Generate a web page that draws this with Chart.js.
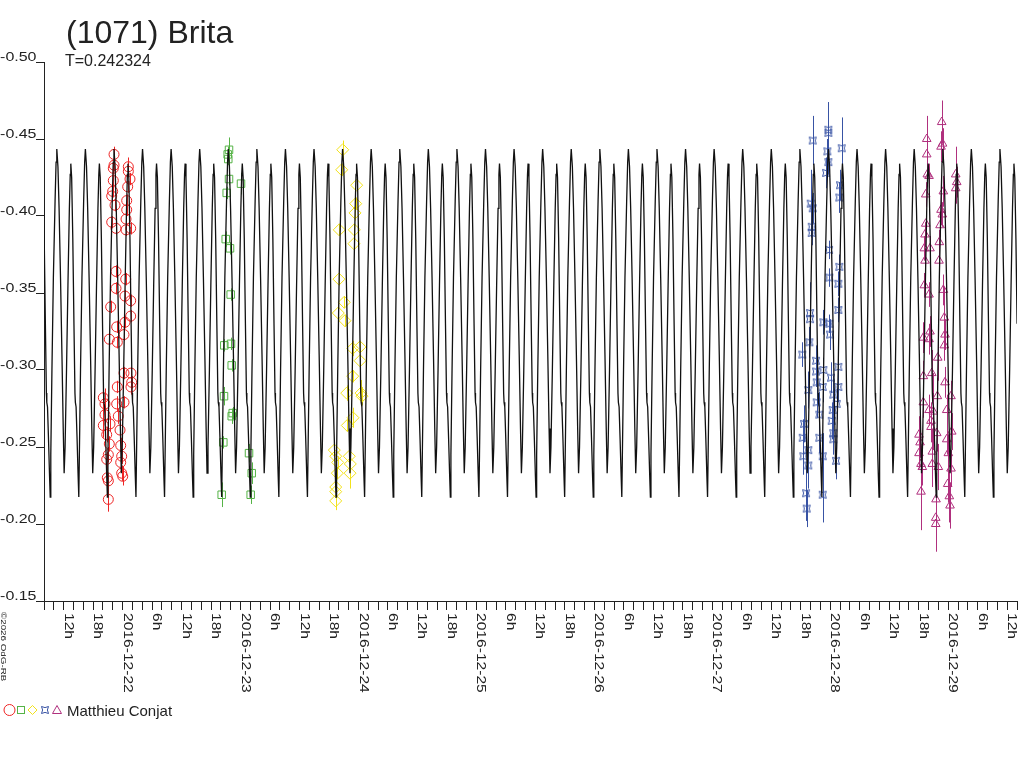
<!DOCTYPE html>
<html>
<head>
<meta charset="utf-8">
<title>(1071) Brita</title>
<script src="https://cdn.jsdelivr.net/npm/chart.js@4.4.1/dist/chart.umd.min.js"></script>
<style>
html, body { margin: 0; padding: 0; background: #fff; }
canvas { display: block; }
</style>
</head>
<body>
<canvas id="lc" width="1024" height="768" style="width:1024px;height:768px"></canvas>
<script>
// time axis: hours since 2016-12-21 00:00 UT
const xMin = 8, xMax = 206;
const yTop = -0.50, yBottom = -0.15;
const titleText = '(1071) Brita';
const periodText = 'T=0.242324';
const observer = 'Matthieu Conjat';
const copyText = '\u00a92026 OdG-RB';

// model light curve, one period (phase 0 = brighter maximum)
const periodHours = 0.242324 * 24;
const modelEpoch = 16.42;
const modelPhase = [0, 0.04, 0.08, 0.13, 0.18, 0.225, 0.257, 0.29, 0.34, 0.39, 0.44, 0.47, 0.49, 0.52, 0.56, 0.6, 0.635, 0.65, 0.675, 0.71, 0.745, 0.77, 0.79, 0.83, 0.88, 0.94, 0.975];
const modelMag = [-0.4435, -0.432, -0.405, -0.36, -0.31, -0.262, -0.233, -0.25, -0.3, -0.355, -0.405, -0.427, -0.434, -0.425, -0.385, -0.33, -0.285, -0.279, -0.276, -0.255, -0.232, -0.2175, -0.245, -0.3, -0.36, -0.41, -0.435];

// session 1 (red circles)
const s1Hours = [22.25, 22.25, 22.10, 25.16, 25.16, 25.50, 22.10, 25.03, 21.98, 21.78, 22.45, 24.83, 24.83, 24.69, 21.78, 22.65, 24.69, 25.64, 22.65, 24.63, 22.65, 24.48, 25.64, 21.57, 25.64, 22.79, 24.48, 24.28, 21.29, 22.92, 24.28, 25.70, 25.85, 25.70, 22.92, 20.07, 20.41, 22.79, 24.28, 20.41, 23.12, 20.07, 21.43, 23.47, 20.76, 21.29, 23.61, 21.09, 23.81, 20.76, 23.61, 20.88, 23.81, 24.02, 21.09, 21.09];
const s1Mag = [-0.440, -0.433, -0.431, -0.432, -0.429, -0.424, -0.423, -0.419, -0.416, -0.413, -0.407, -0.410, -0.404, -0.398, -0.396, -0.392, -0.391, -0.392, -0.364, -0.359, -0.353, -0.348, -0.345, -0.341, -0.335, -0.328, -0.331, -0.323, -0.320, -0.318, -0.298, -0.298, -0.292, -0.289, -0.289, -0.282, -0.278, -0.278, -0.279, -0.271, -0.270, -0.264, -0.265, -0.261, -0.258, -0.252, -0.251, -0.245, -0.244, -0.242, -0.240, -0.230, -0.233, -0.231, -0.228, -0.216];
const s1Err = [0.005, 0.004, 0.004, 0.006, 0.004, 0.004, 0.004, 0.004, 0.004, 0.004, 0.004, 0.004, 0.004, 0.004, 0.004, 0.004, 0.004, 0.004, 0.004, 0.004, 0.004, 0.004, 0.004, 0.004, 0.004, 0.004, 0.004, 0.004, 0.004, 0.004, 0.004, 0.004, 0.004, 0.005, 0.004, 0.012, 0.010, 0.005, 0.004, 0.006, 0.005, 0.008, 0.005, 0.005, 0.005, 0.005, 0.005, 0.005, 0.005, 0.005, 0.005, 0.008, 0.005, 0.006, 0.005, 0.008];

// session 2 (green squares)
const s2Hours = [45.65, 45.38, 45.50, 45.65, 48.09, 45.18, 44.98, 45.85, 45.99, 44.69, 46.05, 46.20, 44.63, 46.40, 46.20, 44.49, 49.72, 50.27, 44.16, 50.06];
const s2Mag = [-0.443, -0.440, -0.437, -0.424, -0.421, -0.415, -0.385, -0.379, -0.349, -0.316, -0.317, -0.303, -0.283, -0.272, -0.270, -0.253, -0.246, -0.233, -0.219, -0.219];
const s2Err = [0.008, 0.005, 0.004, 0.004, 0.007, 0.004, 0.005, 0.004, 0.004, 0.004, 0.004, 0.004, 0.006, 0.004, 0.005, 0.004, 0.006, 0.007, 0.008, 0.006];

// session 3 (yellow diamonds)
const s3Hours = [68.79, 68.58, 71.63, 71.43, 71.29, 68.09, 71.15, 71.08, 68.03, 69.11, 67.89, 69.25, 70.82, 72.31, 72.31, 70.82, 69.60, 72.51, 70.88, 69.72, 67.08, 67.36, 67.77, 70.13, 70.33, 70.27, 67.69, 67.36, 67.36, 67.36, 72.71];
const s3Mag = [-0.443, -0.430, -0.420, -0.408, -0.402, -0.391, -0.391, -0.382, -0.359, -0.344, -0.337, -0.332, -0.314, -0.315, -0.306, -0.296, -0.285, -0.285, -0.269, -0.264, -0.248, -0.244, -0.240, -0.244, -0.239, -0.233, -0.233, -0.224, -0.221, -0.215, -0.283];
const s3Err = [0.006, 0.004, 0.004, 0.004, 0.005, 0.004, 0.004, 0.004, 0.004, 0.004, 0.006, 0.004, 0.005, 0.004, 0.004, 0.004, 0.005, 0.0085, 0.0065, 0.004, 0.004, 0.004, 0.004, 0.004, 0.005, 0.010, 0.004, 0.004, 0.004, 0.006, 0.006];

// session 4 (blue)
const s4Hours = [164.43, 167.61, 167.61, 167.40, 167.61, 167.14, 170.33, 169.98, 169.84, 164.02, 164.43, 164.23, 164.23, 167.75, 169.84, 167.81, 169.64, 169.64, 163.88, 163.88, 166.59, 167.81, 167.95, 163.74, 162.31, 165.10, 169.64, 165.10, 166.59, 168.15, 165.24, 163.53, 166.46, 169.64, 168.62, 165.24, 169.31, 165.77, 168.50, 162.66, 168.30, 162.40, 163.53, 162.52, 166.46, 168.62, 168.62, 169.17, 163.53, 163.07, 166.46, 163.21, 165.77];
const s4Mag = [-0.449, -0.456, -0.454, -0.442, -0.435, -0.428, -0.444, -0.420, -0.412, -0.408, -0.405, -0.393, -0.389, -0.378, -0.367, -0.360, -0.356, -0.339, -0.337, -0.333, -0.331, -0.330, -0.323, -0.318, -0.310, -0.306, -0.302, -0.299, -0.300, -0.295, -0.292, -0.287, -0.289, -0.289, -0.284, -0.279, -0.278, -0.271, -0.274, -0.265, -0.267, -0.256, -0.248, -0.244, -0.244, -0.259, -0.255, -0.241, -0.238, -0.220, -0.219, -0.210, -0.256];
const s4Err = [0.016, 0.018, 0.008, 0.008, 0.008, 0.010, 0.020, 0.010, 0.010, 0.022, 0.010, 0.008, 0.008, 0.006, 0.008, 0.006, 0.008, 0.008, 0.020, 0.010, 0.008, 0.006, 0.010, 0.010, 0.008, 0.010, 0.010, 0.010, 0.008, 0.010, 0.010, 0.012, 0.010, 0.010, 0.012, 0.010, 0.010, 0.015, 0.010, 0.012, 0.012, 0.012, 0.015, 0.012, 0.015, 0.010, 0.010, 0.012, 0.015, 0.018, 0.018, 0.012, 0.010];

// session 5 (purple triangles)
const s5Hours = [190.68, 190.54, 190.85, 187.63, 187.63, 187.75, 188.10, 193.53, 193.73, 193.53, 187.43, 191.01, 190.54, 190.80, 190.34, 187.43, 187.28, 187.14, 188.30, 190.19, 187.28, 190.13, 187.14, 188.10, 191.01, 191.21, 188.30, 186.94, 188.10, 191.35, 191.21, 189.87, 188.65, 186.94, 191.35, 189.79, 192.57, 186.94, 188.10, 188.97, 191.70, 188.50, 189.67, 192.72, 188.50, 186.06, 186.27, 191.70, 188.77, 186.06, 186.47, 186.73, 189.99, 192.03, 192.57, 188.77, 186.47, 191.90, 192.23, 192.37, 189.52, 189.46, 189.46];
const s5Mag = [-0.461, -0.445, -0.447, -0.450, -0.440, -0.427, -0.426, -0.427, -0.422, -0.418, -0.414, -0.416, -0.404, -0.401, -0.394, -0.395, -0.388, -0.379, -0.379, -0.383, -0.371, -0.371, -0.355, -0.349, -0.352, -0.334, -0.325, -0.321, -0.320, -0.323, -0.316, -0.308, -0.298, -0.296, -0.292, -0.283, -0.283, -0.279, -0.274, -0.273, -0.274, -0.267, -0.259, -0.260, -0.263, -0.258, -0.253, -0.255, -0.247, -0.246, -0.239, -0.237, -0.237, -0.246, -0.236, -0.239, -0.221, -0.226, -0.218, -0.212, -0.216, -0.204, -0.200];
const s5Err = [0.014, 0.010, 0.010, 0.015, 0.010, 0.008, 0.008, 0.018, 0.010, 0.010, 0.008, 0.010, 0.010, 0.008, 0.008, 0.008, 0.008, 0.008, 0.008, 0.008, 0.008, 0.010, 0.008, 0.008, 0.010, 0.020, 0.010, 0.010, 0.010, 0.010, 0.010, 0.015, 0.015, 0.010, 0.010, 0.012, 0.010, 0.010, 0.010, 0.025, 0.010, 0.012, 0.012, 0.012, 0.010, 0.012, 0.010, 0.010, 0.015, 0.010, 0.012, 0.012, 0.015, 0.012, 0.012, 0.015, 0.025, 0.012, 0.017, 0.015, 0.015, 0.022, 0.015];

const colors = ['#ee2424', '#55b346', '#f2e21a', '#3853a4', '#b0307e'];
const font = '"Liberation Sans", Arial, sans-serif';

// blue marker: square with pinched sides
function pinchedSquare(color) {
    const c = document.createElement('canvas');
    c.width = 10; c.height = 10;
    const g = c.getContext('2d');
    const s = 3.5, m = 1.3;
    g.strokeStyle = color; g.lineWidth = 1;
    g.translate(5, 5);
    g.beginPath();
    g.moveTo(-s, -s);
    g.quadraticCurveTo(0, -m, s, -s);
    g.quadraticCurveTo(m, 0, s, s);
    g.quadraticCurveTo(0, m, -s, s);
    g.quadraticCurveTo(-m, 0, -s, -s);
    g.closePath(); g.stroke();
    return c;
}
const blueMarker = pinchedSquare(colors[3]);

// model curve, the period table repeated over the time range
const curve = [];
for (let k = -3; k < 40; k++) {
    for (let i = 0; i < modelPhase.length; i++) {
        const t = modelEpoch + (k + modelPhase[i]) * periodHours;
        if (t < xMin - 6 || t > xMax + 6) continue;
        curve.push({ x: t, y: modelMag[i] });
    }
}

function pointSet(hours, mags, errs, color, style, radius) {
    return {
        data: hours.map((h, i) => ({ x: h, y: mags[i] })),
        errors: errs,
        borderColor: color,
        backgroundColor: 'rgba(0,0,0,0)',
        pointBorderColor: color,
        pointBackgroundColor: 'rgba(0,0,0,0)',
        pointBorderWidth: 1,
        pointStyle: style,
        pointRadius: radius,
        pointHoverRadius: radius
    };
}

const overlay = {
    id: 'overlay',
    beforeDatasetsDraw(chart) {
        const { ctx, chartArea: a, scales: { y } } = chart;
        ctx.save();
        ctx.beginPath(); ctx.rect(a.left, a.top, a.right - a.left, a.bottom - a.top); ctx.clip();
        ctx.lineWidth = 1;
        chart.data.datasets.forEach((ds, i) => {
            if (!ds.errors) return;
            ctx.strokeStyle = ds.borderColor;
            chart.getDatasetMeta(i).data.forEach((pt, j) => {
                const m = ds.data[j].y, e = ds.errors[j] || 0.004;
                const px = Math.round(pt.x) + 0.5;
                ctx.beginPath();
                ctx.moveTo(px, y.getPixelForValue(m - e));
                ctx.lineTo(px, y.getPixelForValue(m + e));
                ctx.stroke();
            });
        });
        ctx.restore();
    },
    afterDraw(chart) {
        const { ctx, scales: { x, y } } = chart;
        ctx.save();
        ctx.fillStyle = '#222';
        ctx.textBaseline = 'alphabetic';
        ctx.textAlign = 'left';
        ctx.font = '32px ' + font;
        ctx.fillText(titleText, 66, 43);
        ctx.font = '16px ' + font;
        ctx.fillText(periodText, 65, 66);

        // y tick labels sit just above their tick
        y.ticks.forEach(t => {
            const py = y.getPixelForValue(t.value);
            ctx.save();
            ctx.translate(36.5, py - 1); ctx.scale(1.23, 1);
            ctx.font = '13px ' + font; ctx.textAlign = 'right';
            ctx.fillText(t.value.toFixed(2), 0, 0);
            ctx.restore();
        });

        // x tick labels, read top to bottom
        x.ticks.forEach(t => {
            const h = Math.round(t.value);
            if (h % 6) return;
            const label = h % 24 ? (h % 24) + 'h' : '2016-12-' + (21 + h / 24);
            const px = x.getPixelForValue(h);
            ctx.save();
            ctx.translate(px + 1, 613); ctx.rotate(Math.PI / 2); ctx.scale(1.3, 1);
            ctx.font = '12px ' + font; ctx.textAlign = 'left';
            ctx.fillText(label, 0, 0);
            ctx.restore();
        });

        // copyright
        ctx.save();
        ctx.translate(1, 612); ctx.rotate(Math.PI / 2); ctx.scale(1.4, 1);
        ctx.font = '7px ' + font;
        ctx.fillText(copyText, 0, 0);
        ctx.restore();

        // legend
        const ly = 710;
        ctx.lineWidth = 1;
        ctx.strokeStyle = colors[0];
        ctx.beginPath(); ctx.arc(9.5, ly, 5.5, 0, Math.PI * 2); ctx.stroke();
        ctx.strokeStyle = colors[1];
        ctx.strokeRect(17.5, ly - 3.5, 7, 7);
        ctx.strokeStyle = colors[2];
        ctx.beginPath(); ctx.moveTo(32.5, ly - 4.5); ctx.lineTo(37, ly); ctx.lineTo(32.5, ly + 4.5); ctx.lineTo(28, ly); ctx.closePath(); ctx.stroke();
        ctx.drawImage(blueMarker, 40, ly - 5);
        ctx.strokeStyle = colors[4];
        ctx.beginPath(); ctx.moveTo(57, ly - 4.5); ctx.lineTo(61.5, ly + 3.5); ctx.lineTo(52.5, ly + 3.5); ctx.closePath(); ctx.stroke();
        ctx.font = '15px ' + font;
        ctx.fillText(observer, 67, 716);
        ctx.restore();
    }
};

const axisColor = '#222';
new Chart(document.getElementById('lc'), {
    type: 'scatter',
    data: {
        datasets: [
            { type: 'line', data: curve, borderColor: '#111', borderWidth: 1.3, pointRadius: 0, tension: 0, fill: false },
            pointSet(s1Hours, s1Mag, s1Err, colors[0], 'circle', 5),
            pointSet(s2Hours, s2Mag, s2Err, colors[1], 'rect', 5.3),
            pointSet(s3Hours, s3Mag, s3Err, colors[2], 'rectRot', 6),
            pointSet(s4Hours, s4Mag, s4Err, colors[3], blueMarker, 4),
            pointSet(s5Hours, s5Mag, s5Err, colors[4], 'triangle', 5)
        ]
    },
    options: {
        responsive: false,
        animation: false,
        devicePixelRatio: 1,
        layout: { padding: { top: 62, right: 7, left: 0, bottom: 0 } },
        plugins: { legend: { display: false }, tooltip: { enabled: false } },
        scales: {
            x: {
                type: 'linear', min: xMin, max: xMax,
                ticks: { display: false, stepSize: 2 },
                grid: { drawOnChartArea: false, drawTicks: true, tickLength: 9, color: axisColor },
                border: { display: true, color: axisColor },
                afterFit(s) { s.height = 167; }
            },
            y: {
                type: 'linear', reverse: true, min: yTop, max: yBottom,
                ticks: { display: false, stepSize: 0.05 },
                grid: { drawOnChartArea: false, drawTicks: true, tickLength: 8, color: axisColor },
                border: { display: true, color: axisColor },
                afterFit(s) { s.width = 44; }
            }
        }
    },
    plugins: [overlay]
});
</script>
</body>
</html>
